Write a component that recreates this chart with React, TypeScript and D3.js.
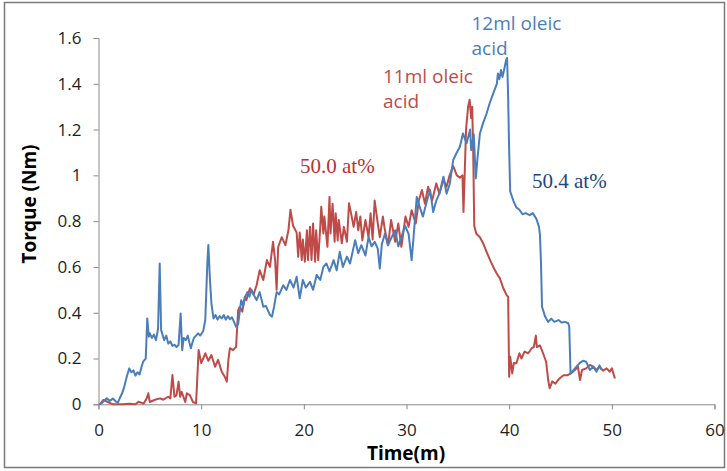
import * as d3 from "d3";
import { useEffect, useRef } from "react";

// torque readings, [time (min), torque (Nm)]
const redSeries: [number, number][] = [
  [0.15, 0], [0.47, 0.019], [0.9, 0.01], [1.4, 0], [2.3, 0], [3.0, 0.002], [3.6, 0], [3.9, 0.011],
  [4.4, 0.003], [4.7, 0.026], [4.85, 0.048], [5.0, 0.01], [5.5, 0.02], [6.0, 0.026], [6.3, 0.02],
  [6.8, 0.033], [7.0, 0.026], [7.2, 0.128], [7.4, 0.033], [7.6, 0.04], [7.8, 0.099], [7.95, 0.033],
  [8.1, 0.055], [8.45, 0.01], [8.6, 0.048], [8.9, 0.04], [9.2, 0.01], [9.5, 0.004], [9.6, 0.092],
  [9.75, 0.237], [10.0, 0.18], [10.2, 0.2], [10.4, 0.223], [10.7, 0.19], [11.0, 0.215], [11.35, 0.164],
  [11.65, 0.194], [12.0, 0.142], [12.3, 0.12], [12.5, 0.099], [12.65, 0.194], [12.8, 0.245],
  [13.1, 0.237], [13.4, 0.25], [13.6, 0.41], [13.75, 0.425], [14.0, 0.405], [14.25, 0.47], [14.4, 0.455],
  [14.75, 0.507], [15.1, 0.48], [15.4, 0.52], [15.7, 0.586], [16.05, 0.543], [16.4, 0.63], [16.7, 0.6],
  [17.0, 0.71], [17.2, 0.63], [17.35, 0.5], [17.5, 0.687], [17.85, 0.73], [18.2, 0.695], [18.5, 0.76],
  [18.7, 0.85], [18.95, 0.78], [19.3, 0.75], [19.45, 0.645], [19.6, 0.75], [19.8, 0.63], [19.9, 0.72],
  [20.1, 0.623], [20.3, 0.76], [20.4, 0.63], [20.6, 0.775], [20.75, 0.63], [20.9, 0.79], [21.1, 0.623],
  [21.2, 0.76], [21.4, 0.63], [21.6, 0.775], [21.7, 0.863], [21.9, 0.746], [22.0, 0.82], [22.3, 0.688],
  [22.5, 0.906], [22.6, 0.746], [22.8, 0.876], [23.0, 0.71], [23.1, 0.834], [23.3, 0.716], [23.4, 0.805],
  [23.7, 0.703], [23.9, 0.775], [24.2, 0.71], [24.4, 0.878], [24.6, 0.834], [24.85, 0.775], [25.1, 0.84],
  [25.3, 0.76], [25.5, 0.82], [25.7, 0.716], [26.0, 0.805], [26.3, 0.73], [26.5, 0.834], [26.7, 0.72],
  [26.9, 0.89], [27.2, 0.79], [27.4, 0.73], [27.7, 0.82], [27.9, 0.76], [28.2, 0.695], [28.5, 0.805],
  [28.9, 0.71], [29.2, 0.79], [29.5, 0.688], [29.9, 0.82], [30.2, 0.775], [30.5, 0.848], [30.9, 0.79],
  [31.2, 0.89], [31.5, 0.936], [31.8, 0.876], [32.1, 0.95], [32.5, 0.89], [32.9, 0.965], [33.2, 0.92],
  [33.6, 0.98], [33.9, 0.95], [34.2, 1.0], [34.55, 1.04], [34.9, 1.0], [35.2, 0.99], [35.45, 1.0],
  [35.55, 0.84], [35.65, 0.98], [35.8, 1.2], [36.0, 1.3], [36.15, 1.33], [36.3, 1.25], [36.4, 1.3],
  [36.5, 1.1], [36.6, 0.78], [36.8, 0.745], [37.15, 0.73], [37.5, 0.7], [37.8, 0.666], [38.1, 0.634],
  [38.45, 0.6], [38.8, 0.57], [39.1, 0.55], [39.4, 0.51], [39.75, 0.477], [39.9, 0.47], [40.0, 0.12],
  [40.1, 0.208], [40.3, 0.135], [40.45, 0.18], [40.7, 0.179], [41.0, 0.223], [41.2, 0.2], [41.5, 0.23],
  [41.85, 0.223], [42.2, 0.245], [42.4, 0.25], [42.6, 0.3], [42.7, 0.25], [43.0, 0.257], [43.3, 0.223],
  [43.6, 0.186], [43.8, 0.106], [43.95, 0.07], [44.2, 0.1], [44.5, 0.09], [44.9, 0.113], [45.3, 0.127],
  [45.7, 0.127], [46.0, 0.135], [46.4, 0.15], [46.7, 0.164], [46.9, 0.106], [47.1, 0.15], [47.5, 0.157],
  [47.85, 0.172], [48.2, 0.164], [48.5, 0.15], [48.8, 0.164], [49.15, 0.147], [49.5, 0.157],
  [49.8, 0.142], [50.0, 0.157], [50.3, 0.113],
];

const blueSeries: [number, number][] = [
  [0.05, 0], [0.3, 0.005], [0.8, 0.026], [1.1, 0.015], [1.4, 0.025], [1.7, 0.012], [1.9, 0.008],
  [2.1, 0.03], [2.3, 0.048], [2.5, 0.075], [2.75, 0.12], [3.0, 0.157], [3.2, 0.14], [3.4, 0.148],
  [3.6, 0.125], [3.8, 0.14], [4.0, 0.13], [4.2, 0.165], [4.35, 0.186], [4.6, 0.2], [4.75, 0.375],
  [4.9, 0.295], [5.0, 0.31], [5.2, 0.29], [5.4, 0.305], [5.6, 0.28], [5.8, 0.33], [5.96, 0.615],
  [6.1, 0.324], [6.2, 0.31], [6.4, 0.28], [6.6, 0.3], [6.8, 0.265], [7.0, 0.275], [7.2, 0.255],
  [7.4, 0.26], [7.6, 0.25], [7.8, 0.26], [8.0, 0.397], [8.15, 0.237], [8.3, 0.29], [8.5, 0.28],
  [8.7, 0.3], [8.85, 0.27], [9.0, 0.245], [9.15, 0.27], [9.3, 0.29], [9.5, 0.3], [9.7, 0.31],
  [9.9, 0.3], [10.2, 0.32], [10.4, 0.368], [10.6, 0.615], [10.7, 0.696], [10.85, 0.55], [11.0, 0.44],
  [11.2, 0.375], [11.4, 0.39], [11.6, 0.37], [11.8, 0.385], [12.0, 0.375], [12.2, 0.39], [12.4, 0.37],
  [12.6, 0.385], [12.8, 0.372], [13.0, 0.38], [13.2, 0.36], [13.4, 0.339], [13.6, 0.35], [13.9, 0.455],
  [14.1, 0.43], [14.3, 0.47], [14.5, 0.49], [14.7, 0.47], [14.9, 0.5], [15.1, 0.48], [15.4, 0.455],
  [15.7, 0.49], [16.05, 0.426], [16.3, 0.43], [16.5, 0.41], [16.7, 0.39], [16.9, 0.383], [17.1, 0.426],
  [17.35, 0.49], [17.6, 0.48], [18.0, 0.52], [18.3, 0.5], [18.65, 0.543], [19.0, 0.51], [19.3, 0.557],
  [19.6, 0.463], [19.9, 0.543], [20.2, 0.51], [20.6, 0.535], [20.9, 0.5], [21.25, 0.565], [21.6, 0.543],
  [21.9, 0.6], [22.2, 0.615], [22.5, 0.58], [22.9, 0.63], [23.2, 0.585], [23.5, 0.666], [23.8, 0.6],
  [24.2, 0.645], [24.5, 0.615], [25.0, 0.717], [25.3, 0.66], [25.6, 0.695], [26.0, 0.65], [26.3, 0.73],
  [26.6, 0.69], [26.9, 0.71], [27.2, 0.68], [27.4, 0.593], [27.6, 0.7], [27.9, 0.745], [28.2, 0.695],
  [28.5, 0.725], [28.9, 0.76], [29.2, 0.69], [29.5, 0.73], [29.85, 0.78], [30.2, 0.745], [30.5, 0.63],
  [30.65, 0.71], [31.0, 0.906], [31.3, 0.86], [31.6, 0.82], [32.0, 0.89], [32.3, 0.936], [32.6, 0.84],
  [32.9, 0.89], [33.2, 0.92], [33.6, 0.994], [33.9, 0.92], [34.2, 0.96], [34.55, 1.067], [34.9, 1.1],
  [35.2, 1.125], [35.5, 1.183], [35.85, 1.14], [36.2, 1.2], [36.3, 1.11], [36.55, 1.18], [36.75, 0.987],
  [36.9, 1.067], [37.15, 1.183], [37.45, 1.227], [37.8, 1.27], [38.1, 1.315], [38.45, 1.358],
  [38.8, 1.4], [38.9, 1.445], [39.05, 1.42], [39.2, 1.46], [39.35, 1.43], [39.55, 1.47], [39.7, 1.503],
  [39.8, 1.513], [39.9, 1.34], [40.0, 1.11], [40.1, 0.93], [40.4, 0.89], [40.7, 0.86], [41.0, 0.85],
  [41.3, 0.83], [41.6, 0.835], [42.0, 0.826], [42.3, 0.835], [42.65, 0.81], [42.9, 0.776], [43.0, 0.74],
  [43.1, 0.616], [43.2, 0.426], [43.5, 0.383], [43.8, 0.36], [44.1, 0.374], [44.4, 0.36], [44.8, 0.368],
  [45.1, 0.357], [45.45, 0.36], [45.75, 0.354], [45.85, 0.34], [45.98, 0.135], [46.1, 0.14],
  [46.55, 0.164], [46.9, 0.182], [47.2, 0.19], [47.5, 0.186], [47.85, 0.15], [48.2, 0.164],
  [48.5, 0.142], [48.8, 0.17], [49.0, 0.15],
];

const xTicks = [0, 10, 20, 30, 40, 50, 60];
const yTicks = [0, 0.2, 0.4, 0.6, 0.8, 1, 1.2, 1.4, 1.6];

const WIDTH = 727;
const HEIGHT = 471;
const PLOT = { left: 98.5, right: 714.5, top: 38, bottom: 404.3 };

const BLUE = "#4a7ebb";
const RED = "#be4b48";
const TICK_FONT = "'Open Sans', sans-serif";

export default function App() {
  const xAxisRef = useRef<SVGGElement>(null);
  const yAxisRef = useRef<SVGGElement>(null);

  const x = d3.scaleLinear().domain([0, 60]).range([PLOT.left, PLOT.right]);
  const y = d3.scaleLinear().domain([0, 1.6]).range([PLOT.bottom, PLOT.top]);

  const line = d3
    .line<[number, number]>()
    .x((d) => x(d[0]))
    .y((d) => y(d[1]));

  useEffect(() => {
    const gx = d3.select(xAxisRef.current);
    gx.call(d3.axisBottom(x).tickValues(xTicks).tickSize(5).tickPadding(15).tickFormat(d3.format("d")));
    const gy = d3.select(yAxisRef.current);
    gy.call(
      d3
        .axisLeft(y)
        .tickValues(yTicks)
        .tickSize(5)
        .tickPadding(12)
        .tickFormat((d) => String(+(+d).toFixed(1)))
    );
    [gx, gy].forEach((g) => {
      g.select(".domain").attr("stroke", "#8a8a8a");
      g.selectAll(".tick line").attr("stroke", "#8a8a8a");
      g.selectAll(".tick text")
        .attr("fill", "#1e1e1e")
        .style("font-family", TICK_FONT)
        .style("font-size", "17px");
    });
  }, []);

  return (
    <div style={{ position: "absolute", left: 0, top: 0 }}>
      <svg width={WIDTH} height={HEIGHT} style={{ display: "block", background: "#fff" }}>
        <rect x={4.5} y={2.5} width={720} height={465} fill="#fff" stroke="#7a7a7a" strokeWidth={1.5} />

        <g ref={xAxisRef} transform={`translate(0,${PLOT.bottom})`} />
        <g ref={yAxisRef} transform={`translate(${PLOT.left},0)`} />

        <path d={line(redSeries) ?? ""} fill="none" stroke={RED} strokeWidth={2} strokeLinejoin="round" />
        <path d={line(blueSeries) ?? ""} fill="none" stroke={BLUE} strokeWidth={2} strokeLinejoin="round" />

        <text
          x={406}
          y={460}
          textAnchor="middle"
          fontFamily={TICK_FONT}
          fontWeight="bold"
          fontSize={19}
          fill="#000"
        >
          Time(m)
        </text>
        <text
          transform="translate(36,204) rotate(-90)"
          textAnchor="middle"
          fontFamily={TICK_FONT}
          fontWeight="bold"
          fontSize={19}
          fill="#000"
        >
          Torque (Nm)
        </text>

        <g fontFamily={TICK_FONT} fontSize={19}>
          <text x={471.5} y={30} fill={BLUE}>12ml oleic</text>
          <text x={471.5} y={55} fill={BLUE}>acid</text>
          <text x={383} y={82.7} fill={RED}>11ml oleic</text>
          <text x={383} y={108.3} fill={RED}>acid</text>
        </g>
        <g fontFamily="'Liberation Serif', 'Times New Roman', serif" fontSize={21}>
          <text x={300} y={173} fill="#b83232">50.0 at%</text>
          <text x={532} y={188.3} fill="#24467e">50.4 at%</text>
        </g>
      </svg>
    </div>
  );
}
